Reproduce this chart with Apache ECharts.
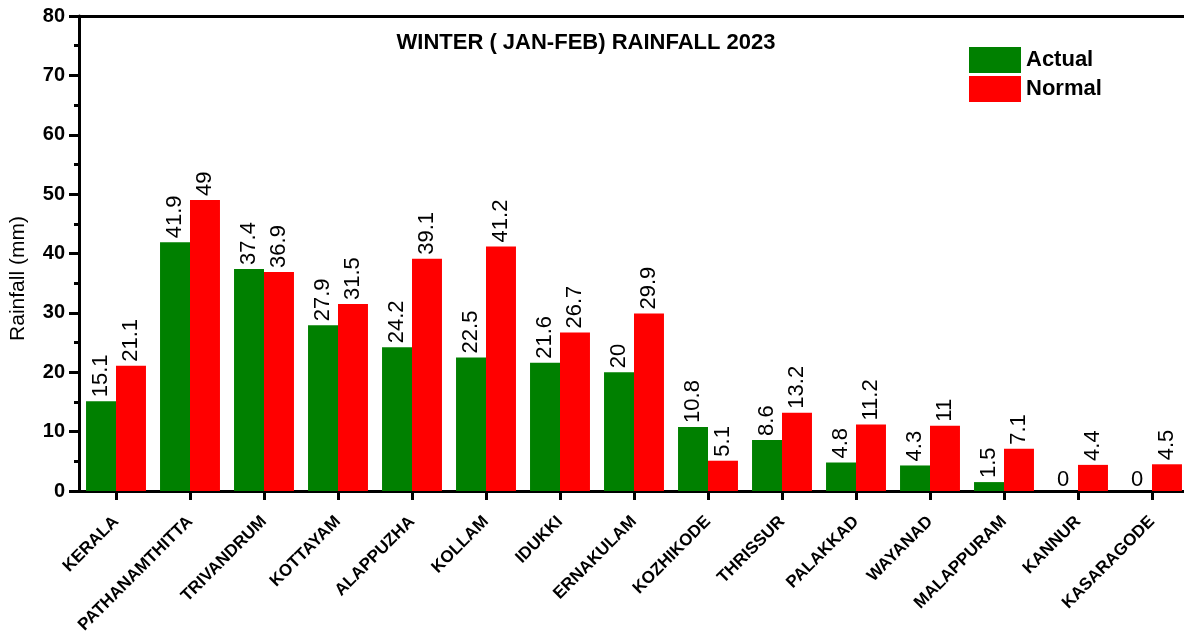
<!DOCTYPE html>
<html>
<head>
<meta charset="utf-8">
<title>Winter Rainfall 2023</title>
<script src="https://cdn.jsdelivr.net/npm/echarts@6/dist/echarts.min.js"></script>
<style>
  html, body { margin: 0; padding: 0; background: #fff; }
  #chart { width: 1184px; height: 642px; }
</style>
</head>
<body>
<div id="chart"></div>
<script>
// data
const districts = ["KERALA", "PATHANAMTHITTA", "TRIVANDRUM", "KOTTAYAM", "ALAPPUZHA", "KOLLAM", "IDUKKI",
  "ERNAKULAM", "KOZHIKODE", "THRISSUR", "PALAKKAD", "WAYANAD", "MALAPPURAM", "KANNUR", "KASARAGODE"];
const actual = [15.1, 41.9, 37.4, 27.9, 24.2, 22.5, 21.6, 20, 10.8, 8.6, 4.8, 4.3, 1.5, 0, 0];
const normal = [21.1, 49, 36.9, 31.5, 39.1, 41.2, 26.7, 29.9, 5.1, 13.2, 11.2, 11, 7.1, 4.4, 4.5];
const yTicks = [0, 10, 20, 30, 40, 50, 60, 70, 80];

const FONT = "'Liberation Sans', Arial, sans-serif";

// rotated labels on bars, zero values are shown upright
function withLabels(values) {
  return values.map((v) => {
    if (v === 0) {
      return { value: v, label: { rotate: 0, align: "center", verticalAlign: "bottom", position: "top", distance: 0 } };
    }
    return v;
  });
}

const barLabel = {
  show: true,
  position: "top",
  rotate: 90,
  align: "left",
  verticalAlign: "middle",
  distance: 4,
  color: "#000",
  fontFamily: FONT,
  fontSize: 22,
};

const chart = echarts.init(document.getElementById("chart"));

chart.setOption({
  animation: false,
  textStyle: { fontFamily: FONT },
  title: {
    text: "WINTER ( JAN-FEB) RAINFALL 2023",
    left: 586,
    textAlign: "center",
    top: 32,
    padding: 0,
    textStyle: { fontFamily: FONT, fontSize: 22, fontWeight: "bold", color: "#000" },
  },
  legend: {
    orient: "vertical",
    left: 969,
    top: 47,
    padding: 0,
    itemWidth: 52,
    itemHeight: 26,
    itemGap: 3,
    icon: "rect",
    data: ["Actual", "Normal"],
    textStyle: { fontFamily: FONT, fontSize: 22, fontWeight: "bold", color: "#000" },
  },
  grid: { left: 79, top: 16, width: 1110, bottom: 151, outerBoundsMode: "none", containLabel: false },
  xAxis: [
    {
      type: "category",
      data: districts,
      axisLine: { lineStyle: { color: "#000", width: 3 } },
      axisTick: { show: true, alignWithLabel: true, length: 9, lineStyle: { width: 3, color: "#000" } },
      axisLabel: {
        interval: 0,
        rotate: 45,
        margin: 28,
        fontFamily: FONT,
        fontSize: 17,
        fontWeight: "bold",
        color: "#000",
      },
    },
    {
      // top frame line
      type: "category",
      position: "top",
      data: districts,
      axisLine: { show: true, lineStyle: { color: "#000", width: 3 } },
      axisTick: { show: false },
      axisLabel: { show: false },
    },
  ],
  yAxis: {
    type: "value",
    min: yTicks[0],
    max: yTicks[yTicks.length - 1],
    interval: 10,
    name: "Rainfall (mm)",
    nameLocation: "middle",
    nameGap: 50,
    nameTextStyle: { fontFamily: FONT, fontSize: 21, color: "#000", padding: [0, 50, 0, 0] },
    axisLine: { show: true, lineStyle: { color: "#000", width: 3 } },
    axisTick: { show: true, length: 10, lineStyle: { width: 3, color: "#000" } },
    minorTick: { show: true, splitNumber: 2, length: 5, lineStyle: { width: 3, color: "#000" } },
    splitLine: { show: false },
    axisLabel: { fontFamily: FONT, fontSize: 20, fontWeight: "bold", color: "#000", margin: 14 },
  },
  series: [
    {
      name: "Actual",
      type: "bar",
      data: withLabels(actual),
      barGap: "0%",
      barCategoryGap: "19%",
      itemStyle: { color: "#008000" },
      label: barLabel,
    },
    {
      name: "Normal",
      type: "bar",
      data: withLabels(normal),
      itemStyle: { color: "#ff0000" },
      label: barLabel,
    },
  ],
});
</script>
</body>
</html>
